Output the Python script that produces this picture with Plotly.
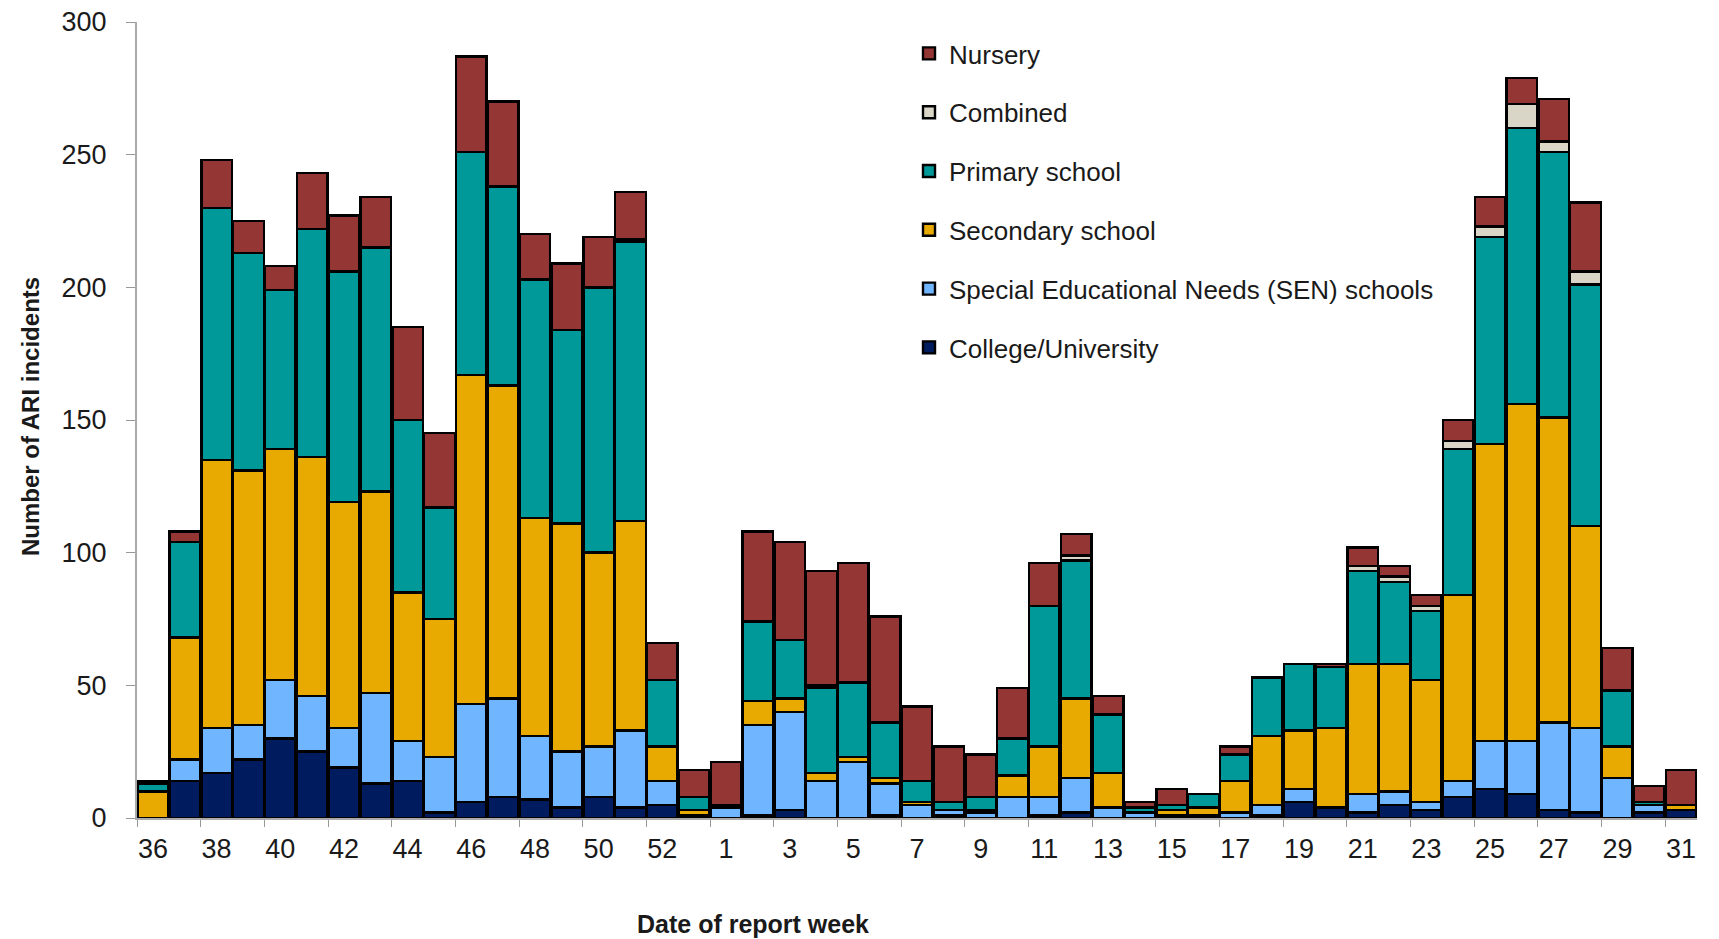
import plotly.graph_objects as go

weeks = [str(w) for w in list(range(36, 54)) + list(range(1, 32))]

college = [0, 14, 17, 22, 30, 25, 19, 13, 14, 2, 6, 8, 7, 4, 8, 4, 5, 1,
           0, 1, 3, 0, 0, 1, 0, 1, 0, 0, 1, 2, 0, 0, 1, 1, 0, 1, 6, 4, 2, 5, 3, 8, 11, 9, 3, 2, 0, 2, 3]
sen = [0, 8, 17, 13, 22, 21, 15, 34, 15, 21, 37, 37, 24, 21, 19, 29, 9, 0,
       4, 34, 37, 14, 21, 12, 5, 2, 2, 8, 7, 13, 4, 2, 0, 0, 2, 4, 5, 0, 7, 5, 3, 6, 18, 20, 33, 32, 15, 3, 0]
secondary = [10, 46, 101, 96, 87, 90, 85, 76, 56, 52, 124, 118, 82, 86, 73, 79, 13, 2,
             0, 9, 5, 3, 2, 2, 1, 0, 1, 8, 19, 30, 13, 0, 2, 3, 12, 26, 22, 30, 49, 48, 46, 70, 112, 127, 115, 76, 12, 0, 2]
primary = [3, 36, 95, 82, 60, 86, 87, 92, 65, 42, 84, 75, 90, 73, 100, 105, 25, 5,
           1, 30, 22, 32, 28, 21, 8, 3, 5, 14, 53, 52, 22, 2, 2, 5, 10, 22, 25, 23, 35, 31, 26, 55, 78, 104, 100, 91, 21, 1, 0]
combined = [0, 0, 0, 0, 0, 0, 0, 0, 0, 0, 0, 0, 0, 0, 0, 1, 0, 0,
            0, 0, 0, 1, 0, 0, 0, 0, 0, 0, 0, 2, 0, 0, 0, 0, 0, 0, 0, 0, 2, 2, 2, 3, 4, 9, 4, 5, 0, 0, 0]
nursery = [1, 4, 18, 12, 9, 21, 21, 19, 35, 28, 36, 32, 17, 25, 19, 18, 14, 10,
           16, 34, 37, 43, 45, 40, 28, 21, 16, 19, 16, 8, 7, 2, 6, 0, 3, 0, 0, 1, 7, 4, 4, 8, 11, 10, 16, 26, 16, 6, 13]

series = [
    ("College/University", college, "#001B5E"),
    ("Special Educational Needs (SEN) schools", sen, "#70B5FF"),
    ("Secondary school", secondary, "#E8A900"),
    ("Primary school", primary, "#009999"),
    ("Combined", combined, "#D9D6C8"),
    ("Nursery", nursery, "#943634"),
]

fig = go.Figure()
n = len(series)
for i, (name, vals, col) in enumerate(series):
    fig.add_trace(go.Bar(
        x=weeks, y=[v if v else None for v in vals], name=name,
        legendgroup=name, legendrank=n - i,
        marker=dict(color=col, line=dict(color="black", width=2.4)),
    ))

# page body offset compensation (8px)
OFF = 8
W, H = 1719, 939
L, R, T, B = 137 - OFF, 22 + OFF, 22 - OFF, 121 + OFF
PW, PH = W - L - R, H - T - B
X0, Y0 = L, H - B  # pixel of plot-area left / bottom


def px(x):
    return (x - OFF - X0) / PW


def py(y):
    return (Y0 - (y - OFF)) / PH


font_main = "Liberation Sans, Arial, sans-serif"
fig.update_layout(
    barmode="stack", bargap=0.04,
    width=W, height=H,
    margin=dict(l=L, r=R, t=T, b=B, autoexpand=False),
    plot_bgcolor="white", paper_bgcolor="white",
    font=dict(family=font_main, size=26, color="#1a1a1a"),
    showlegend=True,
    legend=dict(
        traceorder="grouped", tracegroupgap=22,
        x=px(909), y=py(30), xanchor="left", yanchor="top",
        font=dict(size=26, color="#1a1a1a"), bgcolor="rgba(0,0,0,0)",
    ),
    xaxis=dict(
        type="category", range=[-0.5, 48.5], dtick=2, tick0=0, tickangle=0,
        tickson="boundaries", ticks="outside", ticklen=7, tickcolor="#999",
        showline=True, linecolor="#aaa", linewidth=2, automargin=False,
        showgrid=False, tickfont=dict(size=27), ticklabelstandoff=6,
        ticklabeloverflow="allow",
    ),
    yaxis=dict(
        range=[0, 300], dtick=50, ticks="outside", ticklen=9, tickcolor="#999",
        showline=True, linecolor="#aaa", linewidth=2, showgrid=False, zeroline=False,
        tickfont=dict(size=27), ticklabelstandoff=14, automargin=False,
        ticklabeloverflow="allow",
    ),
    annotations=[
        dict(text="<b>Date of report week</b>", xref="paper", yref="paper",
             x=px(753), y=py(924), xanchor="center", yanchor="middle",
             showarrow=False, font=dict(size=25, color="#1a1a1a")),
        dict(text="<b>Number of ARI incidents</b>", xref="paper", yref="paper",
             x=px(31), y=py(417), xanchor="center", yanchor="middle",
             textangle=-90, showarrow=False, font=dict(size=24, color="#1a1a1a")),
    ],
)

fig.write_html("out.html")
